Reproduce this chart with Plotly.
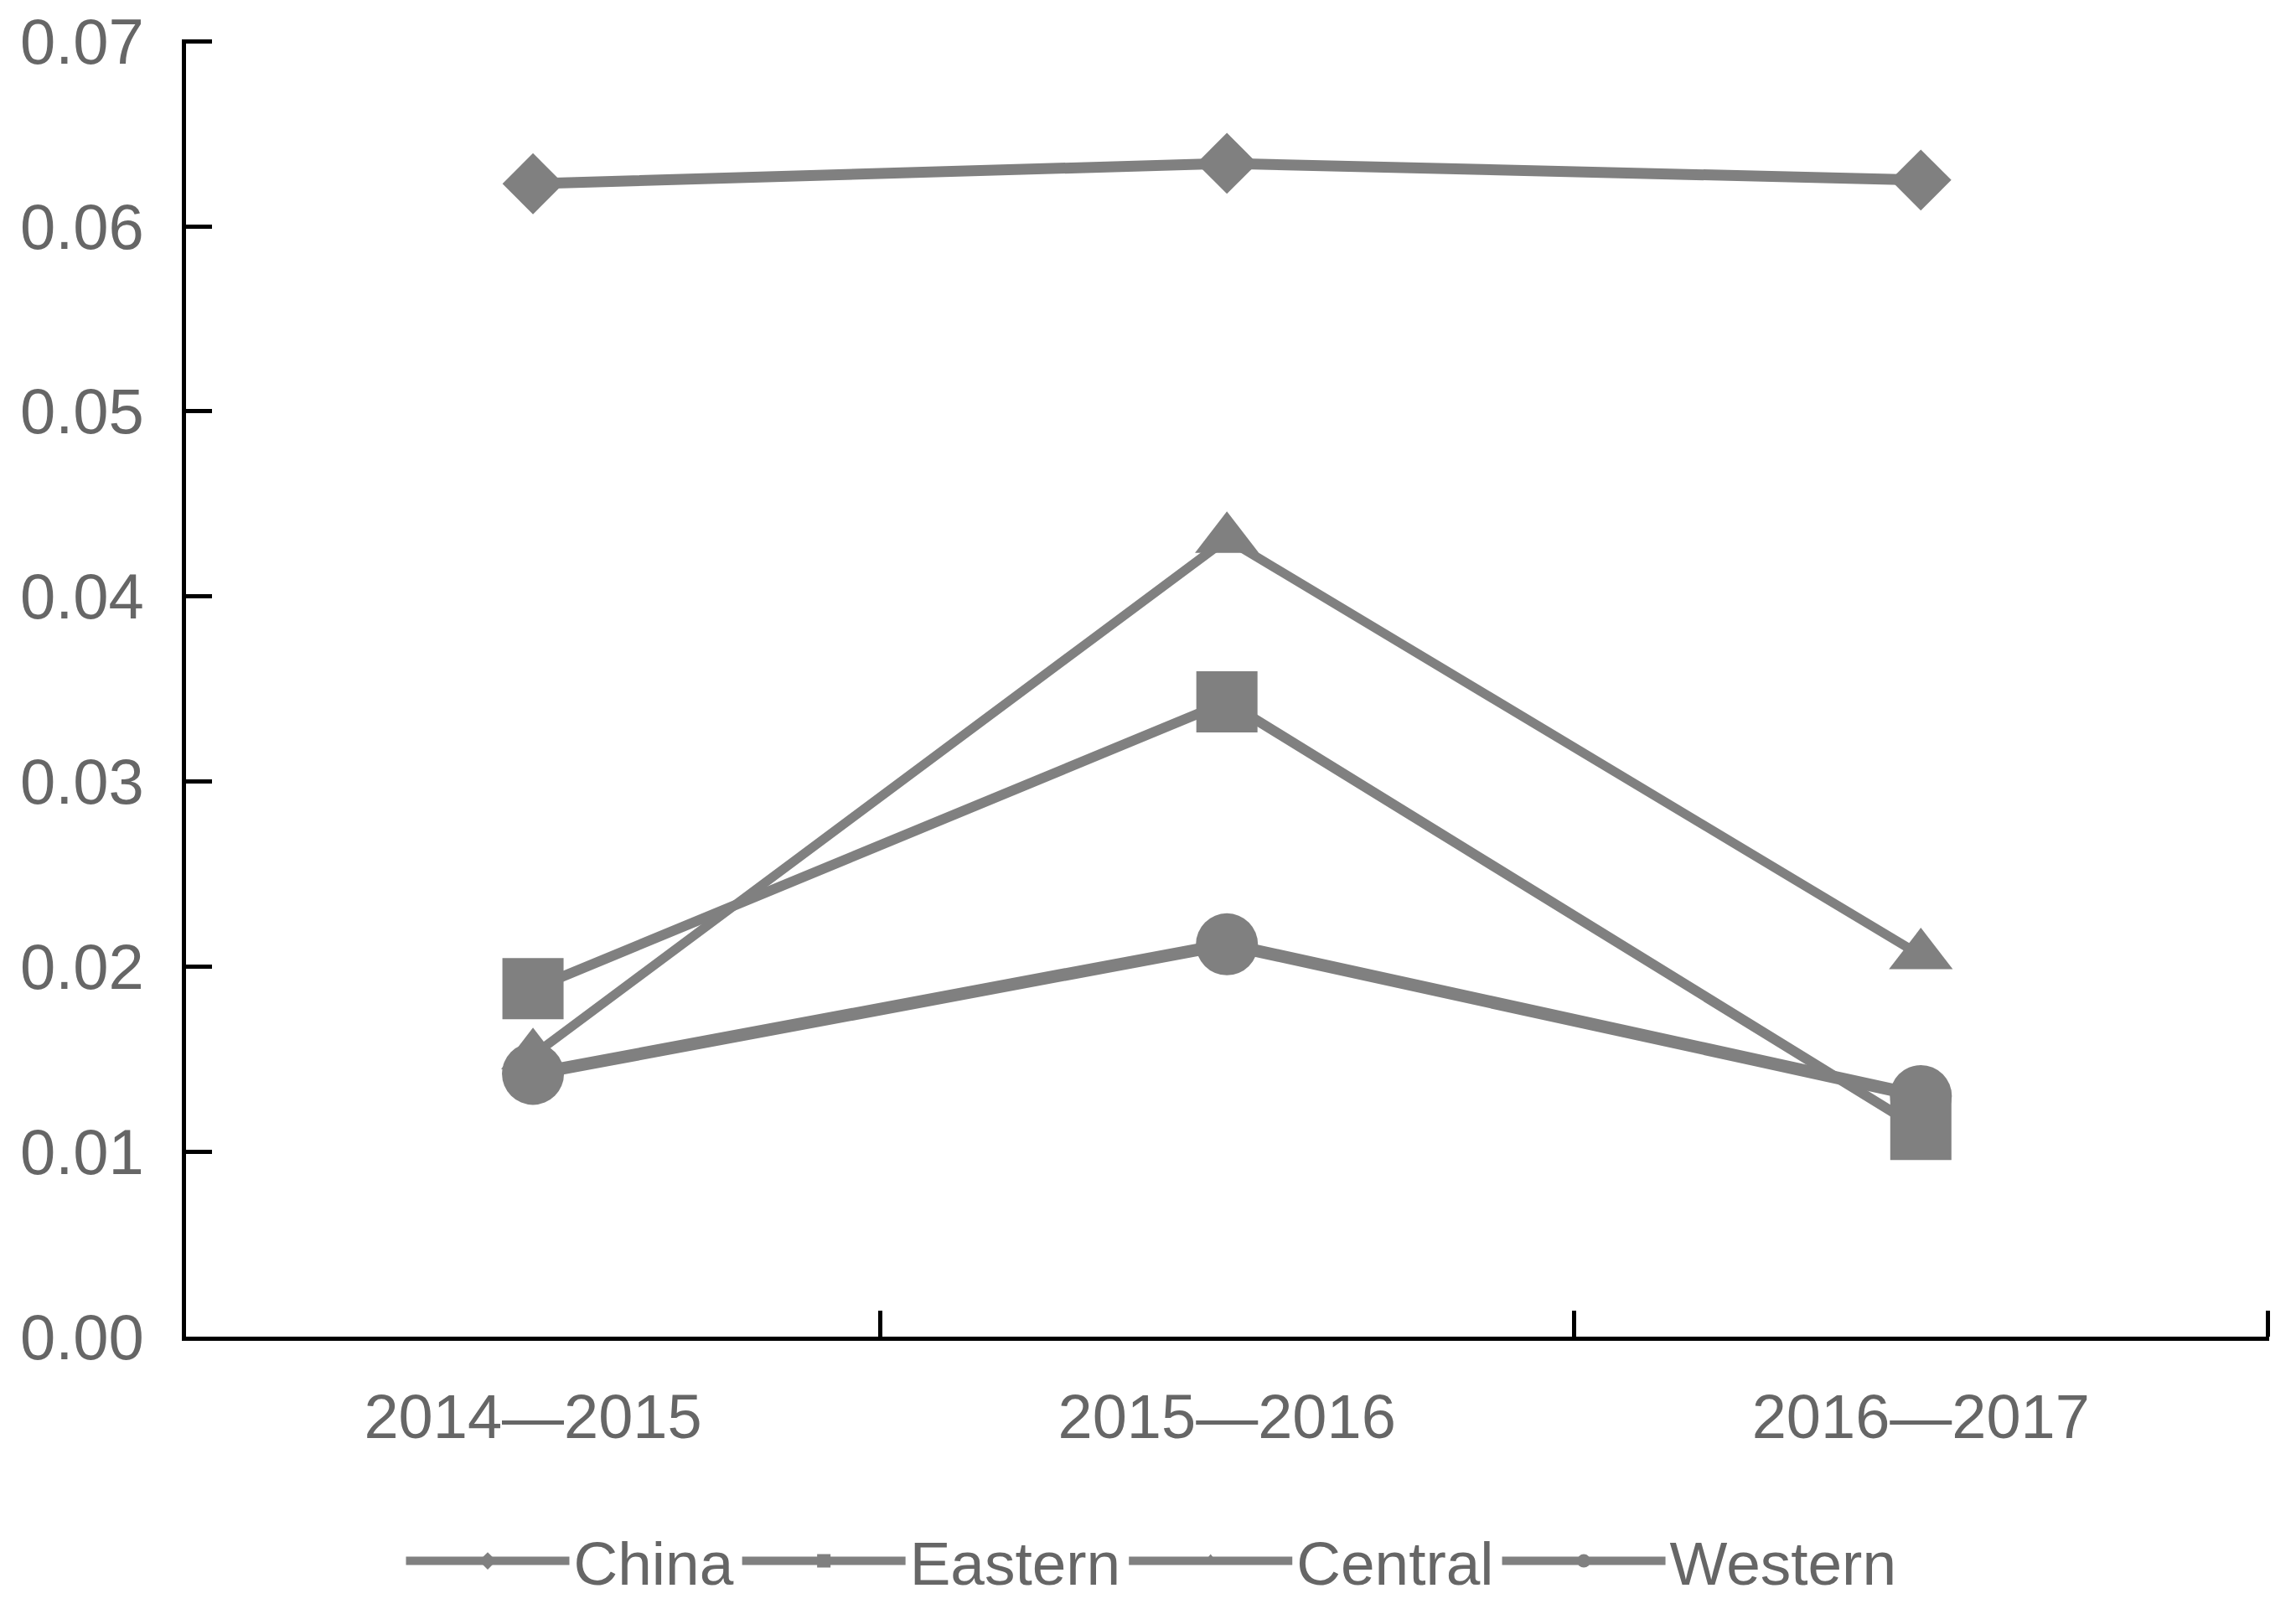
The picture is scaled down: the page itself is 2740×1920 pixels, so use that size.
import plotly.graph_objects as go

categories = ["2014—2015", "2015—2016", "2016—2017"]
china = [0.0623, 0.0634, 0.0625]
eastern = [0.0188, 0.0343, 0.0112]
central = [0.0152, 0.0431, 0.0206]
western = [0.0142, 0.0212, 0.0130]
y_ticks = [0.00, 0.01, 0.02, 0.03, 0.04, 0.05, 0.06, 0.07]

GRAY = "#808080"
TXT = "#666666"
FONT = "Liberation Sans, Arial, sans-serif"

series = [
    ("China", china, "diamond", 56, 13),
    ("Eastern", eastern, "square", 73, 12),
    ("Central", central, "triangle-up", 66, 11),
    ("Western", western, "circle", 74, 15),
]

fig = go.Figure()
for name, vals, sym, msize, lw in series:
    fig.add_trace(go.Scatter(
        x=categories, y=vals, name=name, mode="lines+markers",
        line=dict(color=GRAY, width=lw),
        marker=dict(symbol=sym, size=msize, color=GRAY),
    ))

fig.update_layout(
    width=2732, height=1912,
    margin=dict(l=214, r=32, t=39, b=325),
    paper_bgcolor="white", plot_bgcolor="white",
    font=dict(family=FONT, color=TXT, size=74),
    showlegend=True,
    legend=dict(
        orientation="h", xref="container", x=0.5, xanchor="center",
        yref="container", y=0.030, yanchor="middle",
        font=dict(family=FONT, color=TXT, size=73),
        itemwidth=195, tracegroupgap=0, itemsizing="trace",
        bgcolor="rgba(0,0,0,0)",
    ),
    xaxis=dict(
        type="category", range=[-0.5, 2.502], automargin=False,
        showline=True, linecolor="black", linewidth=5,
        ticks="inside", tickson="boundaries", ticklen=31, tickwidth=5, tickcolor="black",
        showgrid=False, zeroline=False,
        tickfont=dict(family=FONT, color=TXT, size=74),
        ticklabelstandoff=27, ticklabeloverflow="allow",
    ),
    yaxis=dict(
        range=[0, 0.0701], tickvals=y_ticks, tickformat=".2f", automargin=False,
        showline=True, linecolor="black", linewidth=5,
        ticks="inside", ticklen=31, tickwidth=5, tickcolor="black",
        showgrid=False, zeroline=False,
        tickfont=dict(family=FONT, color=TXT, size=76),
        ticklabelstandoff=30, ticklabeloverflow="allow",
    ),
)

fig.write_html("out.html")
